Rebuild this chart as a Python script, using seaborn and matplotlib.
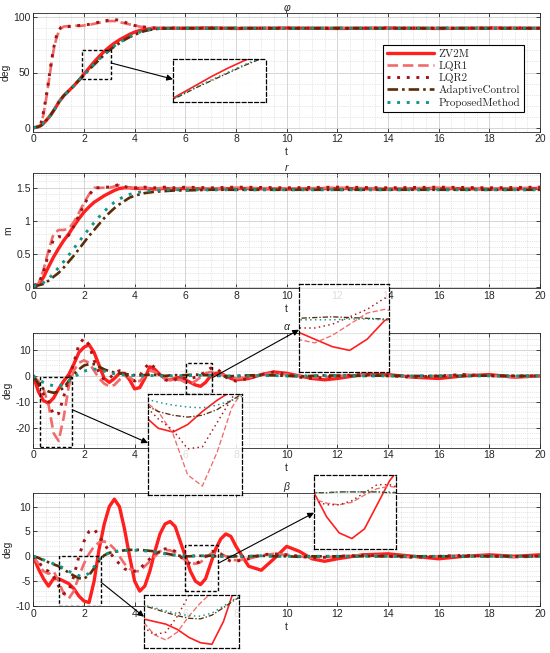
import numpy as np
import seaborn as sns
import matplotlib.pyplot as plt
from matplotlib.patches import Rectangle, ConnectionPatch
from matplotlib.ticker import MultipleLocator, FuncFormatter

sns.set_theme(style="ticks")
plt.rcParams["font.family"] = ["Liberation Sans", "DejaVu Sans"]
plt.rcParams["axes.unicode_minus"] = False

# === data ===
methods = ["ZV2M", "LQR1", "LQR2", "AdaptiveControl", "ProposedMethod"]

t_phi = [0, 0.2, 0.3, 0.4, 0.5, 0.6, 0.7, 0.8, 0.9, 1.0,
         1.1, 1.2, 1.4, 1.6, 1.8, 2.0,
         2.2, 2.4, 2.6, 2.8, 3.0, 3.2, 3.4, 3.6, 3.8, 4.0, 4.2, 4.4, 4.6, 4.8, 5.0,
         5.5, 6, 7, 8, 10, 12, 14, 16, 18, 20]
phi_zv2m = [0, 1, 2, 4, 6.5, 9, 12, 15.5, 19, 23,
            26, 29, 33.5, 38, 43, 48.5,
            54, 59.5, 64.5, 69, 73, 76.5, 79.5, 82, 84.5, 86.5, 88, 89, 89.5, 90, 90,
            90, 90, 90.3, 89.8, 90.2, 89.8, 90.2, 89.8, 90.2, 90]
phi_lqr1 = [0, 0.5, 3, 12, 25, 40, 56, 70, 80, 87,
            90, 91.5, 92, 92.5, 92, 92.5,
            93, 94, 95, 96, 96.5, 96.5, 95.5, 94.5, 93.5, 92.5, 91.5, 91, 90.5, 90.3, 90,
            90, 90.3, 89.8, 90.2, 89.8, 90.3, 89.8, 90.2, 89.8, 90]
phi_lqr2 = [0, 0.5, 4, 14, 27, 42, 58, 72, 82, 88,
            91, 92, 91.5, 92, 92.5, 93,
            93.5, 94.5, 95.5, 96.5, 97.5, 98, 97, 95.5, 94, 92.5, 91.5, 91, 90.5, 90.2, 90,
            90.2, 89.8, 90.2, 89.8, 90.2, 89.8, 90.2, 89.8, 90.2, 90]
phi_adapt = [0, 1, 2, 4, 6.5, 9, 12, 15.5, 19, 23,
             26, 29, 33.5, 38, 43, 47.5,
             52.5, 57, 61.5, 66, 70, 73.5, 76.5, 79.5, 82, 84, 86, 87.5, 88.5, 89.2, 89.6,
             90, 90, 89.8, 90.2, 89.8, 90.2, 89.8, 90.2, 89.8, 90]
phi_prop = [0, 1, 2, 4, 6.5, 9, 12, 15.5, 19, 23,
            26, 29, 33.5, 38, 43, 48,
            53, 57.5, 62, 66.5, 70.5, 74, 77, 80, 82.5, 84.5, 86.5, 88, 89, 89.5, 89.8,
            90, 90, 90, 90, 90, 90, 90, 90, 90, 90]

t_r = [0, 0.2, 0.4, 0.6, 0.8, 1.0, 1.2, 1.4, 1.6, 1.8,
       2.0, 2.2, 2.4, 2.6, 2.8, 3.0, 3.2, 3.4, 3.6, 3.8,
       4.0, 4.4, 4.8, 5.2, 5.6, 6.0, 7, 8, 10, 12, 14, 16, 18, 20]
r_zv2m = [0.01, 0.03, 0.14, 0.3, 0.45, 0.58, 0.7, 0.8, 0.92, 1.03,
          1.13, 1.21, 1.28, 1.33, 1.38, 1.42, 1.46, 1.49, 1.5, 1.5,
          1.49, 1.49, 1.48, 1.49, 1.48, 1.49, 1.48, 1.49, 1.48, 1.49, 1.48, 1.49, 1.48, 1.49]
r_lqr1 = [0.02, 0.04, 0.25, 0.55, 0.8, 0.86, 0.86, 0.88, 0.98, 1.12,
          1.27, 1.40, 1.50, 1.50, 1.50, 1.50, 1.52, 1.54, 1.51, 1.50,
          1.49, 1.50, 1.49, 1.50, 1.49, 1.50, 1.49, 1.50, 1.49, 1.50, 1.49, 1.50, 1.49, 1.50]
r_lqr2 = [0.02, 0.04, 0.22, 0.5, 0.72, 0.76, 0.75, 0.78, 0.92, 1.08,
          1.24, 1.38, 1.50, 1.50, 1.51, 1.51, 1.53, 1.55, 1.52, 1.50,
          1.50, 1.51, 1.50, 1.51, 1.50, 1.51, 1.50, 1.51, 1.50, 1.51, 1.50, 1.51, 1.50, 1.51]
r_adapt = [0.01, 0.02, 0.04, 0.09, 0.15, 0.21, 0.29, 0.38, 0.47, 0.57,
           0.67, 0.77, 0.86, 0.95, 1.04, 1.12, 1.19, 1.25, 1.30, 1.35,
           1.38, 1.42, 1.44, 1.45, 1.46, 1.46, 1.47, 1.47, 1.47, 1.47, 1.47, 1.47, 1.47, 1.47]
r_prop = [0.01, 0.02, 0.06, 0.12, 0.2, 0.29, 0.38, 0.48, 0.58, 0.68,
          0.78, 0.88, 0.97, 1.06, 1.14, 1.22, 1.28, 1.33, 1.37, 1.40,
          1.42, 1.45, 1.46, 1.47, 1.47, 1.47, 1.47, 1.47, 1.47, 1.47, 1.47, 1.47, 1.47, 1.47]

t_ab = [0, 0.2, 0.4, 0.6, 0.8, 1.0, 1.2, 1.4, 1.6, 1.8,
        2.0, 2.2, 2.4, 2.6, 2.8, 3.0, 3.2, 3.4, 3.6, 3.8,
        4.0, 4.2, 4.4, 4.6, 4.8, 5.0, 5.2, 5.4, 5.6, 5.8,
        6.0, 6.2, 6.4, 6.6, 6.8, 7.0, 7.2, 7.4, 7.6, 7.8,
        8.0,
        8.5, 9, 9.5, 10, 10.5, 11, 11.5, 12,
        13, 14, 15, 16, 17, 18, 19, 20]

a_zv2m = [0, -6, -9.5, -10.5, -8.5, -5, -2, 0.5, 4.5, 9,
          11, 12, 9, 4, -1, -2.5, -1, 1, 1, -1.5,
          -5, -4.5, -1, 3.5, 2.5, 0.5, -1, -1.5, -1, -0.5,
          -1.5, -2.5, -3.5, -4, -2.5, 0, 1, 1, 0, -1,
          -1.5,
          -1, 0.5, 1.5, 1, 0, -1, -1.5, -1,
          0.5, 0.5, -0.5, -1, 0, 0.5, -0.5, 0]
a_lqr1 = [0, -2, -5, -11, -22, -25, -16, -4, 2, 5,
          6, 5, 2, -1, -3, -4, -3.5, -1.5, 0, -0.5,
          -2, -2, 0, 2, 1.5, 0, -1, -1.5, -1.5, -1.5,
          -2.5, -3, -2, -0.5, 1, 1.5, 1, 0.5, 0, -0.5,
          -1,
          -0.5, 0.5, 1, 0.5, 0, -0.5, -0.5, 0,
          0.5, 0, -0.5, 0, 0.5, 0, -0.5, 0]
a_lqr2 = [0, -3, -7, -10, -15, -14.5, -8, -1.5, 5, 12,
          14.5, 12, 6, 1, -1.5, -1, 1, 2, 1, -1,
          -2, 0, 3, 5, 3, 0, -1.5, -2, -1.5, -0.5,
          -1, -1, -0.5, 0.5, 1.5, 3, 3, 1.5, -0.5, -1.5,
          -2,
          -1, 0.5, 1.5, 0.5, -0.5, -1, -0.5, 0,
          0.5, 0, -0.5, 0, 0.5, 0, 0, 0]
a_adapt = [0, -3, -5, -6, -6.5, -6, -4.5, -2, 0.5, 2.5,
           4, 4.5, 4.5, 3.5, 2.5, 1.8, 1.3, 1, 0.8, 0.5,
           0.3, 0.2, 0.3, 0.5, 0.4, 0.2, 0, 0.2, 0.3, 0.2,
           0.3, 0.4, 0.5, 0.4, 0.3, 0.2, 0.1, 0, -0.2, -0.1,
           0,
           0.2, 0.3, 0.2, 0, -0.2, 0, 0.2, 0.1,
           0, 0.1, 0, -0.1, 0, 0.1, 0, 0]
a_prop = [0, -1.5, -2.5, -3.3, -3.8, -4, -3.3, -2, -0.5, 0.8,
          1.8, 2.4, 2.6, 2.4, 1.8, 1.2, 0.8, 0.5, 0.3, 0.2,
          0.1, 0, 0, 0.1, 0.1, 0, 0, 0, 0.1, 0.1,
          0.1, 0.1, 0.1, 0.2, 0.2, 0.1, 0.1, 0, 0, 0,
          0,
          0, 0.1, 0.1, 0, 0, 0, 0.1, 0,
          0, 0, 0, 0, 0, 0, 0, 0]

b_zv2m = [0, -2.5, -4.5, -6, -4.5, -4.5, -5, -5.5, -6.5, -8,
          -9, -9.3, -5, 1.5, 6.5, 10, 11.5, 10, 5.5, 0,
          -5, -7, -6, -3, 1, 4.5, 6.5, 7, 6, 3,
          0, -3, -5, -5.7, -4.5, -1.5, 1.5, 3.5, 4.5, 4,
          2,
          -2, -2.8, -0.5, 2, 1, -0.5, -1, -0.5,
          0.3, 0.5, 0, -0.5, 0, 0.3, 0, 0.3]
b_lqr1 = [0, -1.5, -3, -3.5, -3, -5, -7.5, -8.5, -7, -4,
          -1.5, 0.5, 2, 2.8, 3, 2.5, 1.5, 0, -1.5, -2.5,
          -3, -3, -2, -1, 0, 1, 1.3, 1.2, 0.8, 0,
          -0.8, -1.3, -1.5, -1.2, -0.3, 0.5, 0.8, 0.5, 0, -0.6,
          -0.8,
          -0.5, 0.2, 0.5, 0.3, 0, -0.3, -0.2, 0,
          0.2, 0, -0.2, 0, 0.2, 0, -0.2, 0]
b_lqr2 = [0, -1, -2.5, -3, -4, -6, -7.5, -7, -4, 0,
          3, 5, 5.5, 4, 2.5, 1, -0.5, -1.5, -2.5, -3,
          -3, -2.5, -1.5, -0.5, 0.5, 1, 1.5, 1.5, 1, 0,
          -1, -1.5, -1.5, -1, 0, 1, 1, 0.5, -0.5, -1,
          -1,
          -0.5, 0.3, 0.5, 0.3, 0, -0.3, -0.2, 0,
          0.2, 0, -0.2, 0, 0.2, 0, 0, 0]
b_adapt = [0, -0.3, -0.8, -1.2, -1.6, -2, -2.6, -3.3, -3.9, -4.4,
           -4.5, -3.8, -2.4, -0.9, 0.2, 0.7, 0.9, 1.1, 1.2, 1.3,
           1.3, 1.3, 1.2, 1.1, 1, 0.8, 0.6, 0.4, 0.2, 0.1,
           0, 0, 0.1, 0.1, 0.1, 0.1, 0, 0, -0.1, -0.1,
           0,
           0, 0.1, 0, 0, -0.1, 0, 0, 0,
           0, 0, 0, 0, 0, 0, 0, 0]
b_prop = [0, -0.3, -0.7, -1.1, -1.5, -1.9, -2.4, -3, -3.5, -3.9,
          -4, -3.4, -2.1, -0.7, 0.3, 0.7, 0.9, 1.1, 1.2, 1.2,
          1.2, 1.2, 1.1, 1, 0.9, 0.7, 0.5, 0.4, 0.2, 0.1,
          0, 0, 0.1, 0.1, 0.1, 0.1, 0.1, 0, 0, 0,
          0,
          0, 0.1, 0, 0, 0, 0, 0, 0,
          0, 0, 0, 0, 0, 0, 0, 0]

# === styles ===
styles = {
    "ZV2M": dict(color="#ff1f1f", ls="-", lw=2.4),
    "LQR1": dict(color="#f26b6b", ls=(0, (4, 1.8)), lw=1.9),
    "LQR2": dict(color="#a31515", ls=(0, (1, 2.3)), lw=2.1),
    "AdaptiveControl": dict(color="#5b2c06", ls=(0, (4, 1.5, 1, 1.5)), lw=1.9),
    "ProposedMethod": dict(color="#11968a", ls=(0, (1, 2.3)), lw=2.1),
}

W, H = 550, 653


def px_rect(x0, x1, y0, y1):
    return [x0 / W, 1 - y1 / H, (x1 - x0) / W, (y1 - y0) / H]


def draw_lines(ax, t, series, scale=1.0):
    for m in methods:
        st = styles[m]
        sns.lineplot(x=t, y=series[m], ax=ax, color=st["color"], linestyle=st["ls"],
                     linewidth=st["lw"] * scale, label=m, legend=False,
                     estimator=None, errorbar=None)


fig = plt.figure(figsize=(W / 100, H / 100), dpi=100)

panels = [
    dict(t=t_phi, data=[phi_zv2m, phi_lqr1, phi_lqr2, phi_adapt, phi_prop],
         box=(13.3, 131.7), ylim=(-3.5, 103.5), major=50, minor=10, title="φ", ylabel="deg"),
    dict(t=t_r, data=[r_zv2m, r_lqr1, r_lqr2, r_adapt, r_prop],
         box=(173.3, 288.3), ylim=(-0.025, 1.72), major=0.5, minor=0.1, title="r", ylabel="m"),
    dict(t=t_ab, data=[a_zv2m, a_lqr1, a_lqr2, a_adapt, a_prop],
         box=(332.7, 447.7), ylim=(-27.6, 16.6), major=10, minor=2, title="α", ylabel="deg"),
    dict(t=t_ab, data=[b_zv2m, b_lqr1, b_lqr2, b_adapt, b_prop],
         box=(492.7, 606), ylim=(-10, 12.8), major=5, minor=1, title="β", ylabel="deg"),
]

axes = []
for p in panels:
    ax = fig.add_axes(px_rect(33.3, 540, p["box"][0], p["box"][1]))
    series = dict(zip(methods, p["data"]))
    p["series"] = series
    draw_lines(ax, p["t"], series)
    ax.set_xlim(0, 20)
    ax.set_ylim(*p["ylim"])
    ax.xaxis.set_major_locator(MultipleLocator(2))
    ax.xaxis.set_minor_locator(MultipleLocator(0.5))
    ax.yaxis.set_major_locator(MultipleLocator(p["major"]))
    ax.yaxis.set_minor_locator(MultipleLocator(p["minor"]))
    ax.yaxis.set_major_formatter(FuncFormatter(lambda v, pos: "%g" % round(v, 3)))
    ax.grid(which="major", color="#cfcfcf", lw=0.6, ls="-")
    ax.grid(which="minor", color="#cfcfcf", lw=0.5, ls=":")
    ax.set_axisbelow(True)
    ax.tick_params(which="major", direction="in", length=3, width=0.6,
                   top=True, right=True, labelsize=7.5, pad=2, colors="#262626")
    ax.tick_params(which="minor", length=0)
    for s in ax.spines.values():
        s.set_visible(True)
        s.set_linewidth(0.6)
        s.set_color("#262626")
    ax.set_title(p["title"], fontsize=7.5, fontstyle="italic", pad=2)
    ax.set_xlabel("t", fontsize=7.5, labelpad=2)
    ax.set_ylabel(p["ylabel"], fontsize=7.5, labelpad=2)
    axes.append(ax)

handles, labels = axes[0].get_legend_handles_labels()
leg = axes[0].legend(handles, labels, loc="upper right", bbox_to_anchor=(0.968, 0.732),
                     borderaxespad=0, frameon=True, fancybox=False, edgecolor="black",
                     framealpha=1, prop={"family": "cmr10", "size": 8},
                     handlelength=4.2, labelspacing=0.2, borderpad=0.35, handletextpad=0.4)
leg.get_frame().set_linewidth(0.8)

# === zoom boxes and insets ===
# (panel, box t-range, box y-range, inset pixel box, arrow start, arrow end frac)
zooms = [
    (0, (1.92, 3.07), (44, 70), (173, 266, 59, 102), (3.07, 58.6), 0.53),
    (2, (0.26, 1.54), (-27.4, -0.3), (148, 242, 394, 495), (1.54, -13), 0.515),
    (2, (6.02, 7.05), (-6.9, 4.9), (299, 389, 284, 372), (7.05, -0.8), 0.48),
    (3, (1.02, 2.67), (-10, 0), (144, 239, 595, 648), (2.67, -5.2), 0.59),
    (3, (6.0, 7.3), (-7, 2.2), (314, 396, 475, 549), (7.3, -1.4), 0.49),
]

for idx, (tx0, tx1), (vy0, vy1), (px0, px1, py0, py1), start, frac in zooms:
    ax = axes[idx]
    p = panels[idx]
    ax.add_patch(Rectangle((tx0, vy0), tx1 - tx0, vy1 - vy0, fill=False, ec="black",
                           lw=1.0, ls=(0, (2.5, 1.5)), zorder=6))
    ins = fig.add_axes(px_rect(px0, px1, py0, py1))
    ins.set_facecolor((1, 1, 1, 0.85))
    draw_lines(ins, p["t"], p["series"], scale=0.5)
    ins.set_xlim(tx0, tx1)
    ins.set_ylim(vy0, vy1)
    ins.set_xticks([])
    ins.set_yticks([])
    ins.set_xlabel("")
    ins.set_ylabel("")
    for s in ins.spines.values():
        s.set_visible(True)
        s.set_linestyle((0, (3, 2)))
        s.set_linewidth(0.9)
        s.set_color("black")
    con = ConnectionPatch(xyA=start, coordsA=ax.transData, xyB=(0, frac),
                          coordsB=ins.transAxes, arrowstyle="-|>", color="black",
                          lw=0.8, mutation_scale=9, zorder=10)
    fig.add_artist(con)

fig.savefig("out.png", dpi=100)
